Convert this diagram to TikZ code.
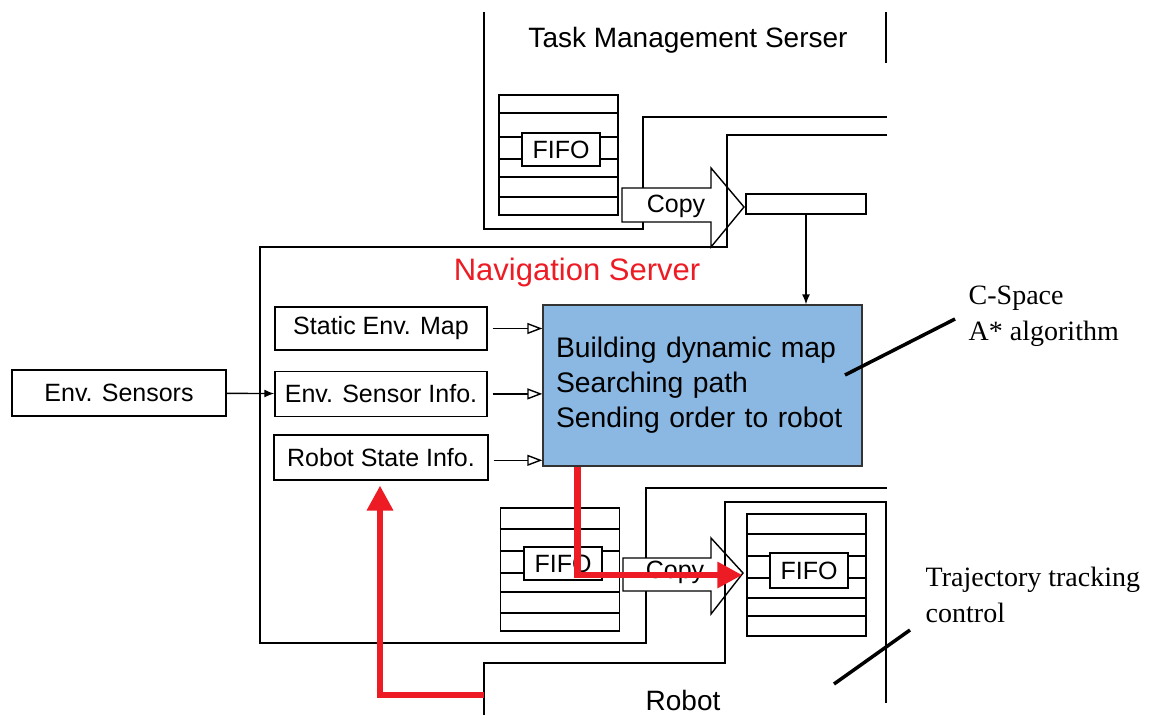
\documentclass[tikz,border=0pt]{standalone}
\usepackage{fontspec}
\setmainfont{Liberation Sans}
\newfontfamily\notefont{Liberation Serif}
\usepackage{tikz}
\usetikzlibrary{arrows.meta,positioning}
\definecolor{planblue}{RGB}{138,184,226}
\definecolor{pathred}{RGB}{237,28,36}

\begin{document}
\begin{tikzpicture}[x=1pt,y=-1pt,line width=1.4pt,>={Latex[length=10pt,width=8pt]},
  box/.style={draw,inner sep=0pt,font=\fontsize{25}{30}\selectfont},
  fifo/.style={draw,fill=white,inner sep=0pt,minimum width=78pt,minimum height=33pt,font=\fontsize{25}{30}\selectfont},
  stack/.style={draw,inner sep=0pt,minimum width=119pt,minimum height=120pt},
  feed/.style={-{Triangle[open,length=15pt,width=11pt]},shorten <=5pt},
  redpath/.style={pathred,line width=6.5pt,-{Triangle[length=25pt,width=25pt]}},
  leader/.style={line width=3.5pt},
  note/.style={font=\notefont\fontsize{28}{36}\selectfont,align=left,inner sep=0pt},
  title/.style={font=\fontsize{28}{34}\selectfont,inner sep=0pt}]
  \useasboundingbox (0,0) rectangle (1156,715);

  % task management server
  \draw (484,12) -- (484,229) -- (643,229) -- (643,117) -- (887,117);
  \draw (886,12) -- (886,63);
  \node[title] (taskname) at (688,40) {Task Management Serser};
  \node[stack] (tstack) at (558.5,155) {};
  \draw (tstack.west |- 0,113) -- (tstack.east |- 0,113);
  \draw (tstack.west |- 0,137) -- (tstack.east |- 0,137);
  \draw (tstack.west |- 0,159) -- (tstack.east |- 0,159);
  \draw (tstack.west |- 0,177) -- (tstack.east |- 0,177);
  \draw (tstack.west |- 0,197) -- (tstack.east |- 0,197);
  \node[fifo] (tfifo) at (561,149.5) {FIFO};
  \draw[fill=white] (622,188) -- (711,188) -- (711,168) -- (744,207) -- (711,247) -- (711,222) -- (622,222) -- cycle;
  \node[box,draw=none] (tcopy) at (676,206) {Copy};

  % navigation server
  \draw (887,135) -- (727,135) -- (727,247) -- (260,247) -- (260,643) -- (646,643) -- (646,488) -- (887,488);
  \node[font=\fontsize{31}{36}\selectfont,text=pathred,inner sep=0pt] (navname) at (577,272) {Navigation Server};
  \node[box,minimum width=120pt,minimum height=20pt] (buffer) at (806,204) {};
  \node[box,minimum width=212pt,minimum height=43pt] (static) at (381,328.5) {Static Env. Map};
  \node[box,minimum width=212pt,minimum height=45pt] (sensinfo) [below=20pt of static] {Env. Sensor Info.};
  \node[box,minimum width=214pt,minimum height=45pt] (robstate) [below=17pt of sensinfo] {Robot State Info.};
  \node[box,minimum width=214pt,minimum height=46pt] (sensors) at (119,393) {Env. Sensors};
  \node[draw=black!80,fill=planblue,minimum width=319pt,minimum height=161pt,text width=293pt,inner sep=13pt,align=left,
        font=\fontsize{28.3}{35}\selectfont] (planner) at (702.5,385.5)
        {Building dynamic map\\Searching path\\Sending order to robot};
  \draw[->] (buffer) -- (buffer |- planner.north);
  \draw[->] (sensors) -- (sensinfo);
  \draw[feed] (static.east) -- (static.east -| planner.west);
  \draw[feed] (sensinfo.east) -- (sensinfo.east -| planner.west);
  \draw[feed] ([yshift=-3pt]robstate.east) -- ([yshift=-3pt]robstate.east -| planner.west);
  \node[stack,minimum height=123pt] (nstack) at (560,569.5) {};
  \draw (nstack.west |- 0,529) -- (nstack.east |- 0,529);
  \draw (nstack.west |- 0,551) -- (nstack.east |- 0,551);
  \draw (nstack.west |- 0,573) -- (nstack.east |- 0,573);
  \draw (nstack.west |- 0,592) -- (nstack.east |- 0,592);
  \draw (nstack.west |- 0,613) -- (nstack.east |- 0,613);
  \node[fifo] (nfifo) at (563,563.5) {FIFO};
  \draw[fill=white] (623,558) -- (711,558) -- (711,538) -- (743,573) -- (711,614) -- (711,591) -- (623,591) -- cycle;
  \node[box,draw=none] (ncopy) at (675,572) {Copy};

  % robot
  \draw (484,715) -- (484,663) -- (725,663) -- (725,502) -- (886,502) -- (886,703);
  \node[title] (robotname) at (683,700) {Robot};
  \node[stack,minimum height=122pt] (rstack) at (806.5,575) {};
  \draw (rstack.west |- 0,534) -- (rstack.east |- 0,534);
  \draw (rstack.west |- 0,556) -- (rstack.east |- 0,556);
  \draw (rstack.west |- 0,578) -- (rstack.east |- 0,578);
  \draw (rstack.west |- 0,598) -- (rstack.east |- 0,598);
  \draw (rstack.west |- 0,616) -- (rstack.east |- 0,616);
  \node[fifo,minimum height=35pt] (rfifo) at (809,570.5) {FIFO};

  % order and state flow
  \coordinate (robotout) at (484,695);
  \draw[redpath] ([xshift=35pt]planner.south west) |- ([xshift=-4pt]rstack.west);
  \draw[redpath] (robotout) -| ([yshift=-5pt]robstate.south -| 380,0);

  % notes
  \node[note,anchor=west] (cspace) at (968,316) {C-Space\\A* algorithm};
  \node[note,anchor=west] (trajnote) at (925,595) {Trajectory tracking\\control};
  \coordinate (cs1) at (845,375);
  \coordinate (cs2) at (955,319);
  \coordinate (tr1) at (834,684);
  \coordinate (tr2) at (910,630);
  \draw[leader] (cs1) -- (cs2);
  \draw[leader] (tr1) -- (tr2);
\end{tikzpicture}
\end{document}
